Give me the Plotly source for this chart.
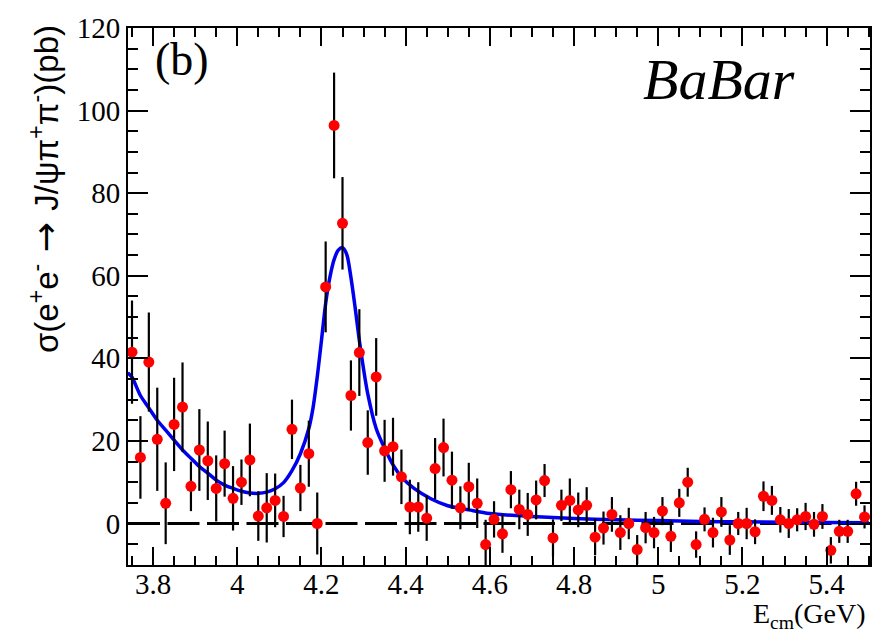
import plotly.graph_objects as go

# Centre-of-mass energy bins (GeV)
E_CM = [3.75, 3.77, 3.79, 3.81, 3.83, 3.85, 3.87, 3.89, 3.91, 3.93,
        3.95, 3.97, 3.99, 4.01, 4.03, 4.05, 4.07, 4.09, 4.11, 4.13,
        4.15, 4.17, 4.19, 4.21, 4.23, 4.25, 4.27, 4.29, 4.31, 4.33,
        4.35, 4.37, 4.39, 4.41, 4.43, 4.45, 4.47, 4.49, 4.51, 4.53,
        4.55, 4.57, 4.59, 4.61, 4.63, 4.65, 4.67, 4.69, 4.71, 4.73,
        4.75, 4.77, 4.79, 4.81, 4.83, 4.85, 4.87, 4.89, 4.91, 4.93,
        4.95, 4.97, 4.99, 5.01, 5.03, 5.05, 5.07, 5.09, 5.11, 5.13,
        5.15, 5.17, 5.19, 5.21, 5.23, 5.25, 5.27, 5.29, 5.31, 5.33,
        5.35, 5.37, 5.39, 5.41, 5.43, 5.45, 5.47, 5.49]

# Measured cross section (pb)
XSEC = [41.5, 16.0, 39.1, 20.4, 4.9, 24.0, 28.2, 9.0, 17.8, 15.2,
        8.5, 14.5, 6.1, 10.0, 15.4, 1.8, 3.8, 5.6, 1.7, 22.8,
        8.6, 16.9, 0.0, 57.3, 96.4, 72.7, 31.0, 41.4, 19.6, 35.5,
        17.6, 18.6, 11.3, 4.0, 4.0, 1.3, 13.3, 18.4, 10.5, 3.8,
        8.9, 4.9, -5.1, 1.0, -2.5, 8.2, 3.4, 2.2, 5.7, 10.4,
        -3.5, 4.4, 5.6, 3.3, 4.4, -3.3, -1.1, 2.2, -2.2, 0.0,
        -6.3, -1.0, -2.2, 3.0, -3.1, 5.0, 10.0, -5.1, 1.0, -2.2,
        2.8, -4.0, 0.0, 0.0, -2.0, 6.6, 5.6, 0.9, 0.0, 0.9,
        1.7, -0.2, 1.7, -6.5, -1.9, -1.9, 7.2, 1.6]

# Statistical uncertainties (pb)
XSEC_ERR = [12.5, 10.0, 12.0, 12.5, 9.9, 11.3, 10.8, 6.0, 9.9, 9.5,
            8.0, 8.0, 7.8, 5.5, 8.8, 6.0, 8.4, 6.5, 5.0, 7.2,
            5.6, 8.0, 7.5, 11.0, 12.8, 11.2, 8.5, 10.5, 7.8, 9.4,
            7.5, 7.0, 6.6, 6.6, 6.0, 5.5, 7.4, 7.0, 6.9, 5.2,
            5.8, 6.0, 6.0, 4.4, 4.6, 4.5, 4.8, 5.2, 4.7, 4.0,
            4.5, 3.8, 5.3, 4.2, 4.4, 4.4, 4.0, 4.2, 4.2, 3.8,
            3.5, 3.8, 3.8, 3.4, 3.8, 3.4, 3.5, 3.2, 2.9, 3.6,
            3.6, 3.6, 2.8, 3.8, 3.0, 3.6, 3.5, 3.1, 3.5, 2.8,
            3.3, 3.0, 3.0, 3.2, 2.8, 2.8, 2.9, 2.8]

# Fitted line shape (resonance + background), sampled in energy
CURVE_X = [3.74, 3.75, 3.77, 3.79, 3.81, 3.83, 3.85, 3.87, 3.89, 3.91, 3.93,
           3.95, 3.97, 3.99, 4.01, 4.03, 4.05, 4.07, 4.09, 4.11, 4.13,
           4.15, 4.17, 4.18, 4.19, 4.20, 4.21, 4.22, 4.23, 4.24, 4.25,
           4.26, 4.27, 4.28, 4.29, 4.30, 4.31, 4.33, 4.35, 4.37, 4.39,
           4.42, 4.46, 4.50, 4.55, 4.60, 4.70, 4.80, 4.90, 5.00, 5.10,
           5.20, 5.30, 5.40, 5.50]
CURVE_Y = [36.5, 35.4, 31.0, 28.0, 25.0, 22.6, 20.2, 17.8, 15.8, 13.8, 12.2,
           10.5, 9.3, 8.5, 7.8, 7.4, 7.3, 7.6, 8.4, 9.9, 12.8,
           16.9, 23.0, 28.0, 35.5, 44.3, 53.3, 59.6, 63.9, 66.2, 66.8,
           65.2, 59.6, 52.3, 44.3, 37.4, 31.4, 23.0, 18.2, 14.2, 11.3,
           8.5, 6.0, 4.3, 3.3, 2.4, 1.7, 1.2, 0.9, 0.7, 0.5,
           0.4, 0.3, 0.25, 0.2]

ZERO_LEVEL = 0.0

X_RANGE = [3.7405, 5.503]
Y_RANGE = [-10.05, 120]

SERIF = "Liberation Serif"
SANS = "Liberation Sans"

fig = go.Figure()

# dashed zero reference line
fig.add_shape(type="line", xref="paper", x0=0, x1=1, yref="y",
              y0=ZERO_LEVEL, y1=ZERO_LEVEL, layer="below",
              line=dict(color="black", width=3, dash="32px,7.5px"))

# fit curve
fig.add_trace(go.Scatter(
    x=CURVE_X, y=CURVE_Y, mode="lines",
    line=dict(color="#0000ee", width=3.5, shape="spline", smoothing=0.8),
    hoverinfo="skip"))

# data points with error bars
fig.add_trace(go.Scatter(
    x=E_CM, y=XSEC, mode="markers",
    marker=dict(color="#ff0000", size=11, line=dict(width=0)),
    error_y=dict(type="data", array=XSEC_ERR, color="black",
                 thickness=2.2, width=0)))

axis_common = dict(
    showgrid=False, zeroline=False,
    showline=True, linecolor="black", linewidth=2, mirror="ticks",
    ticks="inside", tickcolor="black", tickwidth=2,
    tickfont=dict(family=SERIF, size=29, color="black"),
)

fig.update_xaxes(range=X_RANGE, dtick=0.2, tick0=0, ticklen=18,
                 ticklabelstandoff=-8,
                 minor=dict(dtick=0.05, ticklen=9, tickwidth=2,
                            tickcolor="black", ticks="inside"),
                 **axis_common)
fig.update_yaxes(range=Y_RANGE, dtick=20, tick0=0, ticklen=20,
                 minor=dict(dtick=5, ticklen=10, tickwidth=2,
                            tickcolor="black", ticks="inside"),
                 **axis_common)

ARROW = '<span style="font-family:DejaVu Sans;font-size:36px"> → </span>'

annotations = [
    # y-axis title, aligned to the top of the frame
    dict(text="σ(e<sup>+</sup>e<sup>-</sup>" + ARROW +
              "J/ψπ<sup>+</sup>π<sup>-</sup>)(pb)",
         xref="paper", yref="paper", x=0, y=1, xshift=-84, yshift=5,
         xanchor="center", yanchor="top", textangle=-90, showarrow=False,
         font=dict(family=SANS, size=33, color="black")),
    # x-axis title, aligned to the right edge
    dict(text="E<sub>cm</sub>(GeV)",
         xref="paper", yref="paper", x=1, y=0, xshift=-2, yshift=-31,
         xanchor="right", yanchor="top", showarrow=False,
         font=dict(family=SERIF, size=28, color="black")),
    # panel label
    dict(text="(b)", xref="paper", yref="paper", x=0.0728, y=0.942,
         xanchor="center", yanchor="middle", showarrow=False,
         font=dict(family=SERIF, size=46, color="black")),
    # experiment label
    dict(text="<i>BaBar</i>", xref="paper", yref="paper", x=0.7965, y=0.905,
         xanchor="center", yanchor="middle", showarrow=False,
         font=dict(family=SERIF, size=58, color="black")),
]

fig.update_layout(
    width=887, height=633, autosize=False,
    margin=dict(l=128, r=17, t=22, b=68, pad=0),
    paper_bgcolor="white", plot_bgcolor="white",
    font=dict(family=SERIF),
    showlegend=False, annotations=annotations,
)

fig.write_html("out.html")
